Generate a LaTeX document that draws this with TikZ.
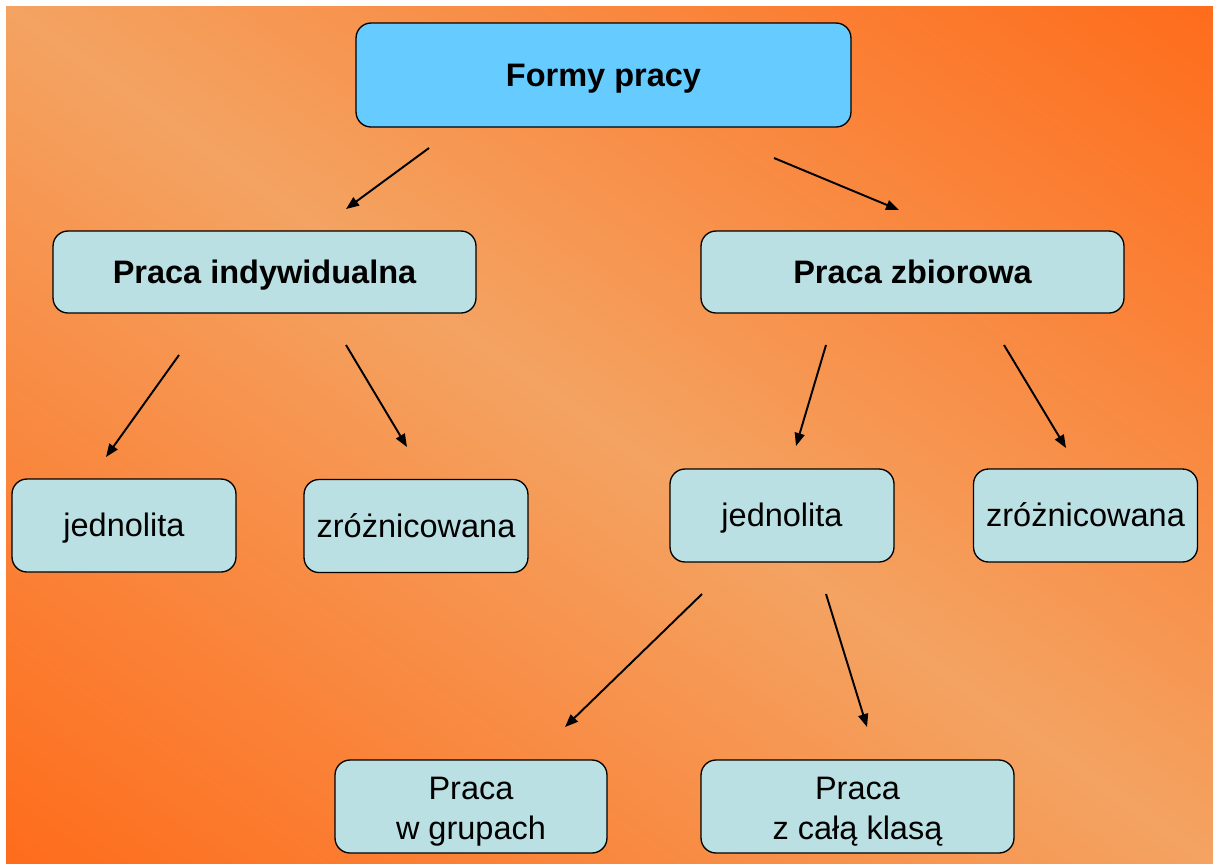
\documentclass[tikz,border=0pt]{standalone}
\usepackage{fontspec}
\setmainfont{Liberation Sans}
\usepackage{tikz}
\usetikzlibrary{arrows.meta,positioning,shapes}
\definecolor{bgdark}{RGB}{255,104,22}
\definecolor{bglight}{RGB}{244,163,98}
\definecolor{topfill}{RGB}{102,204,255}
\definecolor{boxfill}{RGB}{187,224,227}
\newcommand{\boxfont}{\fontsize{18.5}{22.8}\selectfont}
\tikzset{every picture/.style={line width=0.75pt}}
\tikzstyle{frame}=[draw,rounded corners=0.3cm,fill=boxfill,align=center,inner sep=0pt,font=\boxfont,minimum width=4.48cm,minimum height=1.86cm]
\tikzstyle{box}=[frame,text height=16.7pt,text depth=3.9pt]
\tikzstyle{topbox}=[box,fill=topfill,font=\boxfont\bfseries,minimum width=9.9cm,minimum height=2.08cm]
\tikzstyle{midbox}=[box,font=\boxfont\bfseries,minimum width=8.46cm,minimum height=1.64cm]

\begin{document}
\begin{tikzpicture}[x=0.02cm,y=-0.02cm]
\useasboundingbox (0,0) rectangle (1213,863);
\fill[white] (0,0) rectangle (1213,863);
\begin{scope}
\clip (6,6) rectangle (1213,863);
\begin{scope}[y=0.02cm]
\shade[top color=bgdark,bottom color=bgdark,middle color=bglight,shading angle=-35.4]
  (-140.5,-1184.5) rectangle (1359.5,315.5);
\end{scope}
\end{scope}

\node[topbox] (formy) at (603.5,75) {Formy pracy};
\node[midbox] (indyw) at (264.5,272) {Praca indywidualna};
\node[midbox] (zbior) at (912.5,272) {Praca zbiorowa};
\node[box] (jedn1) at (124,525.5) {jednolita};
\node[box] (zroz1) at (416,526) {zróżnicowana};
\node[box] (jedn2) at (782,515.5) {jednolita};
\node[box] (zroz2) at (1085.5,515.5) {zróżnicowana};
\node[frame,minimum width=5.44cm] (grupy) at (471,806.5) {\rule{0pt}{19pt}Praca\\w grupach};
\node[frame,minimum width=6.26cm] (klasa) at (857.5,806.5) {\rule{0pt}{19pt}Praca\\z całą klasą};

% arrow ends
\coordinate (f1) at (429,148);  \coordinate (i0) at (346,209);
\coordinate (f2) at (774,158);  \coordinate (z0) at (899,210);
\coordinate (i1) at (179,355);  \coordinate (j1) at (106,457);
\coordinate (i2) at (346,345);  \coordinate (r1) at (407,447);
\coordinate (z1) at (826,345);  \coordinate (j2) at (796,446);
\coordinate (z2) at (1004,345); \coordinate (r2) at (1066,448);
\coordinate (j3) at (702,594);  \coordinate (g0) at (565,727);
\coordinate (j4) at (826,594);  \coordinate (k0) at (867,727);

\path[->,line width=1.1pt,>={Triangle[length=0.26cm,width=0.2cm]}]
(f1) edge (i0)
(f2) edge (z0)
(i1) edge (j1)
(i2) edge (r1)
(z1) edge (j2)
(z2) edge (r2)
(j3) edge (g0)
(j4) edge (k0);
\end{tikzpicture}
\end{document}
